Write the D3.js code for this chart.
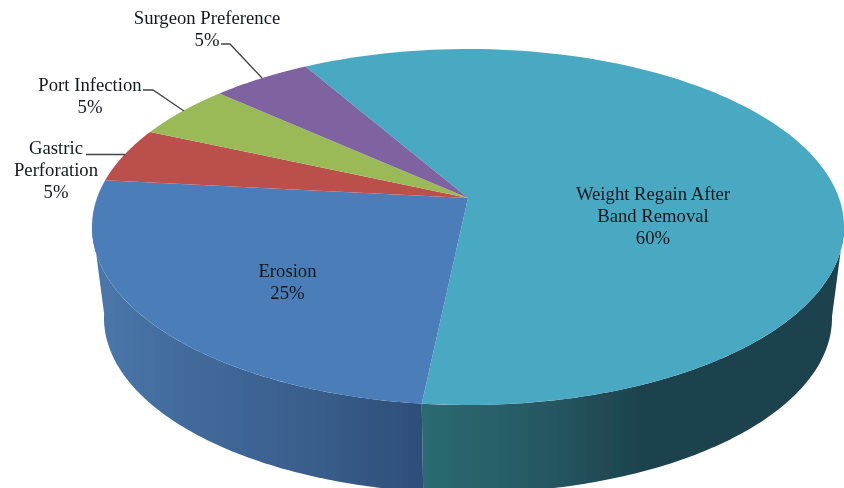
<!DOCTYPE html>
<html>
<head>
<meta charset="utf-8">
<script src="https://cdnjs.cloudflare.com/ajax/libs/d3/7.8.5/d3.min.js"></script>
<style>
html,body{margin:0;padding:0;background:#fff;overflow:hidden}
svg{display:block}
text{font-family:"Liberation Serif","Times New Roman",serif;font-size:18.7px;fill:#14181c;text-anchor:middle}
</style>
</head>
<body>
<svg id="c" width="844" height="488"></svg>
<script>
// Data
const categories = ["Weight Regain After Band Removal","Erosion","Gastric Perforation","Port Infection","Surgeon Preference"];
const values = [60,25,5,5,5];
const topColors = ["#49a9c2","#4c7eb9","#bb4f4c","#9aba58","#7f62a0"];

// Label layout (one block per slice: lines + centre x + first baseline)
const labelLines = [["Weight Regain After","Band Removal"],["Erosion"],["Gastric","Perforation"],["Port Infection"],["Surgeon Preference"]];
const labelX = [653,287.5,56,90,207];
const labelY = [200,277,154,91,24];
const lineGap = 22;
const leaders = [null,null,[[86,154.5],[125,154.5]],[[143,90],[153,90],[184,111]],[[221,44],[230,44],[262,78]]];

// Projection of the tilted disc
const cx = 468, topCy = 227, botCy = 318, rx = 371, ry = 178, persp = 0.163, apexOff = 29, botScaleX = 0.968, botScaleY = 0.983;
function proj(theta, level){ // theta clockwise from 12 o'clock, level 0 = top, 1 = bottom
  const u = Math.sin(theta), v = -Math.cos(theta), d = 1 - persp*v;
  const sx = level ? botScaleX : 1, sy = level ? botScaleY : 1, c = level ? botCy : topCy;
  return [cx + sx*rx*u/d, c + sy*(ry*v - apexOff)/d];
}
const rad = d => d*Math.PI/180;
const svg = d3.select("#c");
const defs = svg.append("defs");
defs.append("filter").attr("id","soft").attr("x",0).attr("y",0).attr("width","100%").attr("height","100%")
  .attr("filterUnits","userSpaceOnUse")
  .append("feGaussianBlur").attr("stdDeviation",0.4);
const root = svg.append("g").attr("filter","url(#soft)");
const line = d3.line();

const arcs = d3.pie().sort(null).value(d=>d).startAngle(rad(-30)).endAngle(rad(330))(values);
const sample = (a,b,n=120) => d3.range(n+1).map(i=>a+(b-a)*i/n);

// Side walls
function wall(id, a, b, stops, x1, x2){
  const g = defs.append("linearGradient").attr("id",id).attr("gradientUnits","userSpaceOnUse")
    .attr("x1",x1).attr("x2",x2).attr("y1",0).attr("y2",0);
  stops.forEach(s=>g.append("stop").attr("offset",s[0]).attr("stop-color",s[1]));
  const ts = sample(a,b);
  const pts = ts.map(t=>proj(t,0)).concat(ts.slice().reverse().map(t=>proj(t,1)));
  root.append("path").attr("d",line(pts)+"Z").attr("fill",`url(#${id})`);
}
const splitAngle = arcs[0].endAngle;
wall("gTeal", rad(99), splitAngle, [[0,"#2c6a72"],[0.185,"#285f69"],[0.3,"#255762"],[0.42,"#214c57"],[0.52,"#1c434e"],[1,"#1c424d"]], 422, 844);
wall("gBlue", splitAngle, rad(262), [[0,"#2e4e78"],[0.35,"#3a5f8d"],[0.7,"#416a9b"],[1,"#4a77aa"]], 422, 92);

// Top faces
const apex = [cx, topCy - apexOff];
root.append("g").selectAll("path").data(arcs).join("path")
  .attr("d", d => line([apex].concat(sample(d.startAngle,d.endAngle).map(t=>proj(t,0))))+"Z")
  .attr("fill",(d,i)=>topColors[i]);

// Leaders
root.append("g").selectAll("path").data(leaders.filter(Boolean)).join("path")
  .attr("d",d=>line(d)).attr("fill","none").attr("stroke","#444").attr("stroke-width",1.3);

// Labels
const total = d3.sum(values);
const lab = root.append("g").selectAll("text").data(categories).join("text")
  .attr("x",(d,i)=>labelX[i]).attr("y",(d,i)=>labelY[i]);
lab.each(function(d,i){
  const t = d3.select(this);
  labelLines[i].concat([Math.round(values[i]/total*100)+"%"]).forEach((s,k)=>{
    t.append("tspan").attr("x",labelX[i]).attr("y",labelY[i]+k*lineGap).text(s);
  });
});
</script>
</body>
</html>
